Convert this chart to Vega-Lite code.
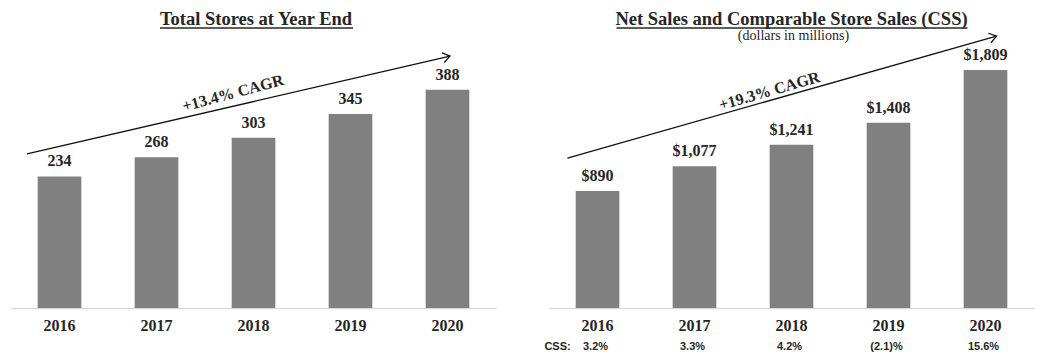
{
  "$schema": "https://vega.github.io/schema/vega-lite/v6.json",
  "background": "white",
  "padding": {"left": 11, "top": 10, "right": 5, "bottom": 5},
  "bounds": "flush",
  "spacing": 53,
  "config": {"view": {"stroke": null}, "font": "Liberation Serif"},
  "datasets": {
    "stores": [
      {"year": "2016", "stores": 234},
      {"year": "2017", "stores": 268},
      {"year": "2018", "stores": 303},
      {"year": "2019", "stores": 345},
      {"year": "2020", "stores": 388}
    ],
    "sales": [
      {"year": "2016", "sales": 890, "css": "3.2%"},
      {"year": "2017", "sales": 1077, "css": "3.3%"},
      {"year": "2018", "sales": 1241, "css": "4.2%"},
      {"year": "2019", "sales": 1408, "css": "(2.1)%"},
      {"year": "2020", "sales": 1809, "css": "15.6%"}
    ],
    "trendL": [{"year": 2015.665, "value": 274}, {"year": 2020.026, "value": 448}],
    "trendR": [{"year": 2015.69, "value": 1140}, {"year": 2020.113, "value": 2067}],
    "cagrL": [{"year": 2017.789, "value": 382, "text": "+13.4% CAGR"}],
    "cagrR": [{"year": 2017.773, "value": 1649, "text": "+19.3% CAGR"}],
    "titleL": [{"year": 2018.026, "value": 503, "text": "Total Stores at Year End"}],
    "titleR": [{"year": 2018.0, "value": 2150, "text": "Net Sales and Comparable Store Sales (CSS)"}],
    "subtitleR": [{"year": 2018.02, "value": 2036, "text": "(dollars in millions)"}],
    "ulineL": [{"year": 2017.036, "year2": 2019.026, "value": 498}],
    "ulineR": [{"year": 2016.196, "year2": 2019.814, "value": 2128}],
    "cssLabel": [{"year": 2015.588, "value": -294, "text": "CSS:"}]
  },
  "hconcat": [
    {
      "width": 485,
      "height": 253,
      "resolve": {"scale": {"x": "independent"}, "axis": {"x": "independent"}},
      "layer": [
        {
          "data": {"name": "stores"},
          "mark": {"type": "bar", "color": "#808080"},
          "encoding": {
            "x": {"field": "year", "type": "ordinal", "scale": {"paddingInner": 0.55, "paddingOuter": 0.275},
              "axis": {"title": null, "labelAngle": 0, "ticks": false, "grid": false, "domainColor": "#d9d9d9", "domainWidth": 1.5, "labelFont": "Liberation Serif", "labelFontSize": 16, "labelFontWeight": "bold", "labelColor": "#262626", "labelPadding": 9}},
            "y": {"field": "stores", "type": "quantitative", "scale": {"domain": [0, 450]}, "axis": null}
          }
        },
        {
          "data": {"name": "stores"},
          "mark": {"type": "text", "baseline": "bottom", "dy": -7, "font": "Liberation Serif", "fontSize": 16, "fontWeight": "bold", "color": "#262626"},
          "encoding": {
            "x": {"field": "year", "type": "ordinal", "scale": {"paddingInner": 0.55, "paddingOuter": 0.275}, "axis": null},
            "y": {"field": "stores", "type": "quantitative", "scale": {"domain": [0, 450]}, "axis": null},
            "text": {"field": "stores", "type": "quantitative", "format": "d"}
          }
        },
        {
          "data": {"name": "trendL"},
          "mark": {"type": "line", "color": "#111111", "strokeWidth": 1.3},
          "encoding": {
            "x": {"field": "year", "type": "quantitative", "scale": {"domain": [2015.5, 2020.5], "nice": false, "zero": false}, "axis": null},
            "y": {"field": "value", "type": "quantitative", "scale": {"domain": [0, 450]}, "axis": null}
          }
        },
        {
          "data": {"name": "trendL"},
          "transform": [{"filter": "datum.year > 2020"}],
          "mark": {"type": "point", "shape": "M-1,-0.7L0,0L-1,0.7", "filled": false, "stroke": "#111111", "strokeWidth": 1.3, "size": 200, "angle": -13, "opacity": 1},
          "encoding": {
            "x": {"field": "year", "type": "quantitative", "scale": {"domain": [2015.5, 2020.5], "nice": false, "zero": false}, "axis": null},
            "y": {"field": "value", "type": "quantitative", "scale": {"domain": [0, 450]}, "axis": null}
          }
        },
        {
          "data": {"name": "cagrL"},
          "mark": {"type": "text", "angle": -15, "font": "Liberation Serif", "fontSize": 16, "fontWeight": "bold", "color": "#262626"},
          "encoding": {
            "x": {"field": "year", "type": "quantitative", "scale": {"domain": [2015.5, 2020.5], "nice": false, "zero": false}, "axis": null},
            "y": {"field": "value", "type": "quantitative", "scale": {"domain": [0, 450]}, "axis": null},
            "text": {"field": "text"}
          }
        },
        {
          "data": {"name": "titleL"},
          "mark": {"type": "text", "baseline": "alphabetic", "font": "Liberation Serif", "fontSize": 18.5, "fontWeight": "bold", "color": "#262626"},
          "encoding": {
            "x": {"field": "year", "type": "quantitative", "scale": {"domain": [2015.5, 2020.5], "nice": false, "zero": false}, "axis": null},
            "y": {"field": "value", "type": "quantitative", "scale": {"domain": [0, 450]}, "axis": null},
            "text": {"field": "text"}
          }
        },
        {
          "data": {"name": "ulineL"},
          "mark": {"type": "rule", "color": "#262626", "strokeWidth": 1.5},
          "encoding": {
            "x": {"field": "year", "type": "quantitative", "scale": {"domain": [2015.5, 2020.5], "nice": false, "zero": false}, "axis": null},
            "x2": {"field": "year2"},
            "y": {"field": "value", "type": "quantitative", "scale": {"domain": [0, 450]}, "axis": null}
          }
        }
      ]
    },
    {
      "width": 485,
      "height": 253,
      "resolve": {"scale": {"x": "independent"}, "axis": {"x": "independent"}},
      "layer": [
        {
          "data": {"name": "sales"},
          "mark": {"type": "bar", "color": "#808080"},
          "encoding": {
            "x": {"field": "year", "type": "ordinal", "scale": {"paddingInner": 0.55, "paddingOuter": 0.275},
              "axis": {"title": null, "labelAngle": 0, "ticks": false, "grid": false, "domainColor": "#d9d9d9", "domainWidth": 1.5, "labelFont": "Liberation Serif", "labelFontSize": 16, "labelFontWeight": "bold", "labelColor": "#262626", "labelPadding": 9}},
            "y": {"field": "sales", "type": "quantitative", "scale": {"domain": [0, 1923]}, "axis": null}
          }
        },
        {
          "data": {"name": "sales"},
          "mark": {"type": "text", "baseline": "bottom", "dy": -7, "font": "Liberation Serif", "fontSize": 16, "fontWeight": "bold", "color": "#262626"},
          "encoding": {
            "x": {"field": "year", "type": "ordinal", "scale": {"paddingInner": 0.55, "paddingOuter": 0.275}, "axis": null},
            "y": {"field": "sales", "type": "quantitative", "scale": {"domain": [0, 1923]}, "axis": null},
            "text": {"field": "sales", "type": "quantitative", "format": "$,.0f"}
          }
        },
        {
          "data": {"name": "sales"},
          "mark": {"type": "text", "dx": -2, "font": "Liberation Sans", "fontSize": 11, "fontWeight": "bold", "color": "#262626"},
          "encoding": {
            "x": {"field": "year", "type": "ordinal", "scale": {"paddingInner": 0.55, "paddingOuter": 0.275}, "axis": null},
            "y": {"datum": -294, "type": "quantitative", "scale": {"domain": [0, 1923]}, "axis": null},
            "text": {"field": "css"}
          }
        },
        {
          "data": {"name": "cssLabel"},
          "mark": {"type": "text", "font": "Liberation Sans", "fontSize": 11, "fontWeight": "bold", "color": "#262626"},
          "encoding": {
            "x": {"field": "year", "type": "quantitative", "scale": {"domain": [2015.5, 2020.5], "nice": false, "zero": false}, "axis": null},
            "y": {"field": "value", "type": "quantitative", "scale": {"domain": [0, 1923]}, "axis": null},
            "text": {"field": "text"}
          }
        },
        {
          "data": {"name": "trendR"},
          "mark": {"type": "line", "color": "#111111", "strokeWidth": 1.3},
          "encoding": {
            "x": {"field": "year", "type": "quantitative", "scale": {"domain": [2015.5, 2020.5], "nice": false, "zero": false}, "axis": null},
            "y": {"field": "value", "type": "quantitative", "scale": {"domain": [0, 1923]}, "axis": null}
          }
        },
        {
          "data": {"name": "trendR"},
          "transform": [{"filter": "datum.year > 2020"}],
          "mark": {"type": "point", "shape": "M-1,-0.7L0,0L-1,0.7", "filled": false, "stroke": "#111111", "strokeWidth": 1.3, "size": 200, "angle": -16, "opacity": 1},
          "encoding": {
            "x": {"field": "year", "type": "quantitative", "scale": {"domain": [2015.5, 2020.5], "nice": false, "zero": false}, "axis": null},
            "y": {"field": "value", "type": "quantitative", "scale": {"domain": [0, 1923]}, "axis": null}
          }
        },
        {
          "data": {"name": "cagrR"},
          "mark": {"type": "text", "angle": -16, "font": "Liberation Serif", "fontSize": 16, "fontWeight": "bold", "color": "#262626"},
          "encoding": {
            "x": {"field": "year", "type": "quantitative", "scale": {"domain": [2015.5, 2020.5], "nice": false, "zero": false}, "axis": null},
            "y": {"field": "value", "type": "quantitative", "scale": {"domain": [0, 1923]}, "axis": null},
            "text": {"field": "text"}
          }
        },
        {
          "data": {"name": "titleR"},
          "mark": {"type": "text", "baseline": "alphabetic", "font": "Liberation Serif", "fontSize": 18.5, "fontWeight": "bold", "color": "#262626"},
          "encoding": {
            "x": {"field": "year", "type": "quantitative", "scale": {"domain": [2015.5, 2020.5], "nice": false, "zero": false}, "axis": null},
            "y": {"field": "value", "type": "quantitative", "scale": {"domain": [0, 1923]}, "axis": null},
            "text": {"field": "text"}
          }
        },
        {
          "data": {"name": "subtitleR"},
          "mark": {"type": "text", "baseline": "alphabetic", "font": "Liberation Serif", "fontSize": 14, "color": "#262626"},
          "encoding": {
            "x": {"field": "year", "type": "quantitative", "scale": {"domain": [2015.5, 2020.5], "nice": false, "zero": false}, "axis": null},
            "y": {"field": "value", "type": "quantitative", "scale": {"domain": [0, 1923]}, "axis": null},
            "text": {"field": "text"}
          }
        },
        {
          "data": {"name": "ulineR"},
          "mark": {"type": "rule", "color": "#262626", "strokeWidth": 1.5},
          "encoding": {
            "x": {"field": "year", "type": "quantitative", "scale": {"domain": [2015.5, 2020.5], "nice": false, "zero": false}, "axis": null},
            "x2": {"field": "year2"},
            "y": {"field": "value", "type": "quantitative", "scale": {"domain": [0, 1923]}, "axis": null}
          }
        }
      ]
    }
  ]
}
